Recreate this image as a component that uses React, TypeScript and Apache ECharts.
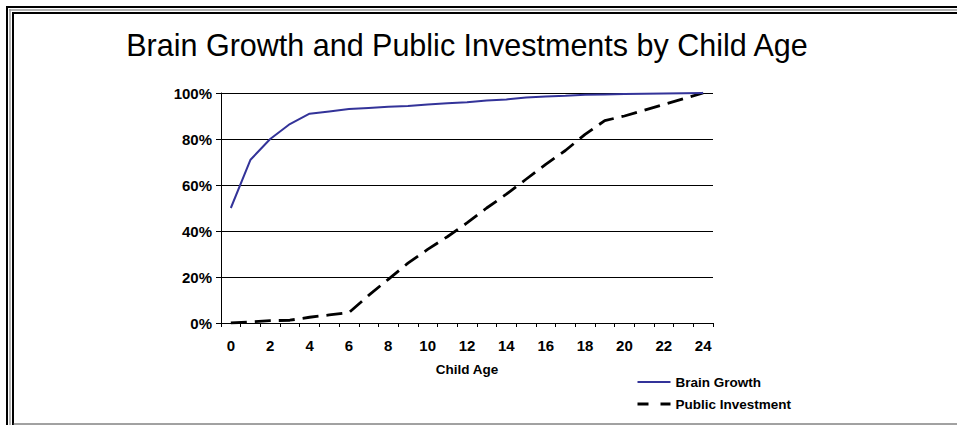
import React, { useEffect, useRef } from "react";
import * as echarts from "echarts";

const TITLE = "Brain Growth and Public Investments by Child Age";
const ages = ["0","1","2","3","4","5","6","7","8","9","10","11","12","13","14","15","16","17","18","19","20","21","22","23","24"];
const brainGrowth = [0.50, 0.71, 0.80, 0.865, 0.91, 0.92, 0.93, 0.935, 0.94, 0.943, 0.95, 0.955, 0.96, 0.967, 0.972, 0.98, 0.985, 0.988, 0.992, 0.994, 0.996, 0.997, 0.998, 0.999, 1.0];
const publicInvestment = [0, 0.005, 0.01, 0.012, 0.025, 0.035, 0.045, 0.12, 0.19, 0.26, 0.32, 0.375, 0.435, 0.50, 0.56, 0.625, 0.69, 0.75, 0.82, 0.88, 0.90, 0.925, 0.95, 0.975, 1.0];
const seriesNames = ["Brain Growth", "Public Investment"];
const axisName = "Child Age";

const FONT = "'Liberation Sans', Arial, Helvetica, sans-serif";

export default function App() {
  const ref = useRef<HTMLDivElement>(null);
  useEffect(() => {
    document.body.style.margin = "0";
    const chart = echarts.init(ref.current!, null, { renderer: "svg" });
    const frame = [
      { shape: { x1: 6, y1: 7, x2: 957, y2: 7 }, style: { stroke: "#000", lineWidth: 2 } },
      { shape: { x1: 9, y1: 10, x2: 957, y2: 10 }, style: { stroke: "#999", lineWidth: 1.5 } },
      { shape: { x1: 12, y1: 13, x2: 957, y2: 13 }, style: { stroke: "#000", lineWidth: 2 } },
      { shape: { x1: 7, y1: 6, x2: 7, y2: 425 }, style: { stroke: "#000", lineWidth: 2 } },
      { shape: { x1: 10, y1: 9, x2: 10, y2: 425 }, style: { stroke: "#999", lineWidth: 1.5 } },
      { shape: { x1: 13, y1: 12, x2: 13, y2: 425 }, style: { stroke: "#000", lineWidth: 2 } },
      { shape: { x1: 13, y1: 424, x2: 957, y2: 424 }, style: { stroke: "#444", lineWidth: 1 } },
    ].map((l) => ({ type: "line", silent: true, ...l }));
    chart.setOption({
      animation: false,
      backgroundColor: "#fff",
      textStyle: { fontFamily: FONT },
      graphic: [
        ...frame,
        {
          type: "text",
          x: 467,
          y: 44.5,
          style: {
            text: TITLE,
            font: `30.5px ${FONT}`,
            fill: "#000",
            align: "center",
            verticalAlign: "middle",
          },
        },
      ],
      grid: { left: 221, right: 244, top: 93, bottom: 102, containLabel: false },
      legend: {
        orient: "vertical",
        left: 636,
        top: 375,
        padding: 0,
        itemWidth: 33,
        itemHeight: 14,
        itemGap: 8,
        itemStyle: { opacity: 0 },
        textStyle: { fontFamily: FONT, fontWeight: "bold", fontSize: 13.5, color: "#000" },
        data: [
          { name: seriesNames[0] },
          { name: seriesNames[1], lineStyle: { type: [11, 12], width: 3 } },
        ],
      },
      xAxis: {
        type: "category",
        data: ages,
        boundaryGap: true,
        name: axisName,
        nameLocation: "middle",
        nameGap: 39.5,
        nameTextStyle: { fontFamily: FONT, fontWeight: "bold", fontSize: 13.5, color: "#000" },
        axisLine: { lineStyle: { color: "#000", width: 1 } },
        axisTick: { show: true, interval: 0, length: 4, lineStyle: { color: "#000" } },
        axisLabel: { interval: 1, margin: 14.5, fontFamily: FONT, fontWeight: "bold", fontSize: 15, color: "#000" },
        splitLine: { show: false },
      },
      yAxis: {
        type: "value",
        min: 0,
        max: 1,
        interval: 0.2,
        axisLine: { show: true, lineStyle: { color: "#000", width: 1 } },
        axisTick: { show: true, length: 5, lineStyle: { color: "#000" } },
        axisLabel: {
          margin: 9,
          fontFamily: FONT,
          fontWeight: "bold",
          fontSize: 15,
          color: "#000",
          formatter: (v: number) => `${Math.round(v * 100)}%`,
        },
        splitLine: { show: true, lineStyle: { color: "#000", width: 1 } },
      },
      series: [
        {
          name: seriesNames[0],
          type: "line",
          data: brainGrowth,
          symbol: "none",
          smooth: false,
          lineStyle: { color: "#333399", width: 2 },
          itemStyle: { color: "#333399" },
          z: 3,
        },
        {
          name: seriesNames[1],
          type: "line",
          data: publicInvestment,
          symbol: "none",
          smooth: false,
          lineStyle: { color: "#000", width: 2.8, type: [16, 8] },
          itemStyle: { color: "#000" },
          z: 2,
        },
      ],
    });
    return () => chart.dispose();
  }, []);
  return <div ref={ref} style={{ position: "absolute", left: 0, top: 0, width: 957, height: 425 }} />;
}
